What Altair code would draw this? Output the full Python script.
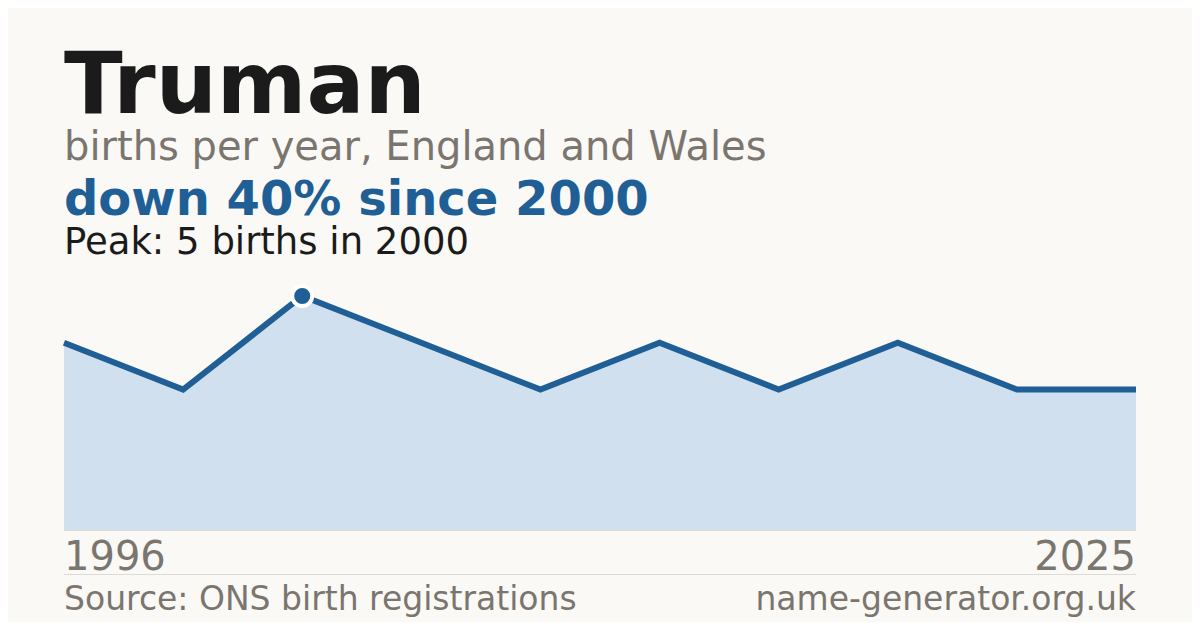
import altair as alt
import pandas as pd

# data (index-based positions; intermediate years estimated)
years = [1996, 1998, 2000, 2003, 2006, 2010, 2014, 2018, 2022, 2025]
births = [4, 3, 5, 4, 3, 4, 3, 4, 3, 3]
peak_year = 2000
peak_value = 5

df = pd.DataFrame({"i": list(range(len(years))), "year": years, "births": births})
peak_df = df[df["year"] == peak_year]

BG = "#faf9f5"
BLUE = "#1f5f96"
FILL = "#d0e0ef"
GRAY = "#7a766f"
DARK = "#1b1b1b"
RULE = "#dedbd4"
FONT = "DejaVu Sans"

W, H = 1072, 234
xs = alt.Scale(domain=[0, len(years) - 1], nice=False, zero=False)
ys = alt.Scale(domain=[0, 5], nice=False)

base = alt.Chart(df)
X = alt.X("i:Q", scale=xs, axis=None)
Y = alt.Y("births:Q", scale=ys, axis=None)

area = base.mark_area(color=FILL, opacity=1).encode(x=X, y=Y)
line = base.mark_line(color=BLUE, strokeWidth=6, strokeJoin="miter").encode(x=X, y=Y)
peak = alt.Chart(peak_df).mark_point(
    filled=True, shape="circle", size=400, fill=BLUE, stroke="white", strokeWidth=4, opacity=1
).encode(x=X, y=Y)

left_year = alt.Chart(df.iloc[[0]]).mark_text(
    align="left", baseline="alphabetic", font=FONT, fontSize=40, color=GRAY
).encode(x=X, y=alt.value(570 - 296), text="year:N")
right_year = alt.Chart(df.iloc[[-1]]).mark_text(
    align="right", baseline="alphabetic", font=FONT, fontSize=40, color=GRAY
).encode(x=X, y=alt.value(570 - 296), text="year:N")

def txt(s, y, size, color, weight="normal", align="left", x=0):
    return alt.Chart(pd.DataFrame({"t": [s]})).mark_text(
        align=align, baseline="alphabetic", font=FONT, fontSize=size,
        fontWeight=weight, color=color
    ).encode(x=alt.value(x), y=alt.value(y - 296), text="t:N")

title = txt("Truman", 113, 86, DARK, "bold")
sub = txt("births per year, England and Wales", 160, 40, GRAY)
headline = txt("down 40% since 2000", 215, 48, BLUE, "bold")
peak_txt = txt(f"Peak: {peak_value} births in {peak_year}", 254, 37, DARK)
src = txt("Source: ONS birth registrations", 610, 33, GRAY)
site = txt("name-generator.org.uk", 610, 33, GRAY, align="right", x=W)

def hrule(y):
    return alt.Chart(pd.DataFrame({"a": [0]})).mark_rule(color=RULE, strokeWidth=1).encode(
        x=alt.value(0), x2=alt.value(W), y=alt.value(y - 296)
    )

chart = alt.layer(
    area, hrule(530.5), line, peak, left_year, right_year, hrule(574.5),
    title, sub, headline, peak_txt, src, site
).properties(
    width=W, height=H,
    autosize=alt.AutoSizeParams(type="none"),
    padding={"left": 56, "top": 288, "right": 56, "bottom": 92},
    background=BG,
).configure_view(stroke=None)

chart.save("out.html", embed_options={"renderer": "svg", "actions": False})
